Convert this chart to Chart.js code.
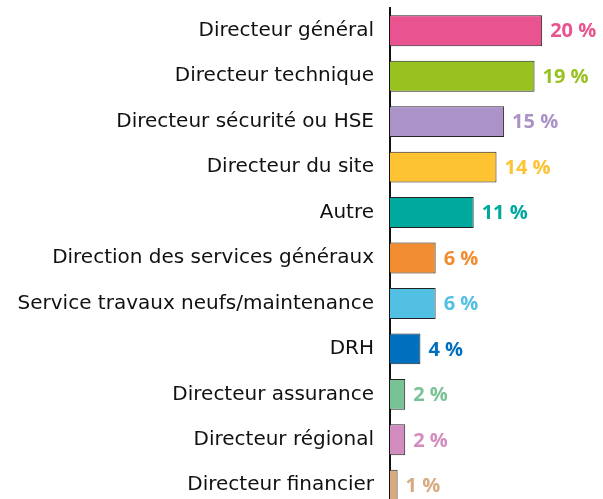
<!DOCTYPE html>
<html lang="fr">
<head>
<meta charset="utf-8">
<title>Fonction des répondants</title>
<script src="https://cdn.jsdelivr.net/npm/chart.js@4/dist/chart.umd.min.js"></script>
<style>
  html, body { margin: 0; padding: 0; background: #fff; overflow: hidden; }
  #wrap { width: 603px; height: 508px; position: relative; }
</style>
</head>
<body>
<div id="wrap"><canvas id="chart"></canvas></div>
<script>
// Values (share of respondents, %).
const categories = [
  'Directeur général', 'Directeur technique', 'Directeur sécurité ou HSE',
  'Directeur du site', 'Autre', 'Direction des services généraux',
  'Service travaux neufs/maintenance', 'DRH', 'Directeur assurance',
  'Directeur régional', 'Directeur financier',
];
const values = [20, 19, 15, 14, 11, 6, 6, 4, 2, 2, 1];
const colors = [
  '#E9538F', '#97C21F', '#AB93C8', '#FDC332', '#00A99E', '#F28C30',
  '#52C0E3', '#0070BE', '#78C295', '#D38CBF', '#D7AA80',
];

const LABEL_FONT = "'DejaVu Sans', 'Noto Sans', sans-serif";
const VALUE_FONT = "'Open Sans', 'Noto Sans', sans-serif";

// Bold coloured "NN %" label just past the end of each bar.
const valueLabels = {
  id: 'valueLabels',
  afterDatasetsDraw(chart) {
    const { ctx } = chart;
    const meta = chart.getDatasetMeta(0);
    ctx.save();
    ctx.font = `bold 20px ${VALUE_FONT}`;
    ctx.textBaseline = 'middle';
    ctx.textAlign = 'left';
    meta.data.forEach((bar, i) => {
      ctx.fillStyle = colors[i];
      ctx.fillText(`${values[i]} %`, bar.x + 8, bar.y + 1);
    });
    ctx.restore();
  },
};

new Chart(document.getElementById('chart'), {
  type: 'bar',
  data: {
    labels: categories,
    datasets: [{
      data: values,
      backgroundColor: colors,
      borderColor: '#222',
      borderWidth: 1,
      borderSkipped: 'start',
      categoryPercentage: 1,
      barPercentage: 0.68,
    }],
  },
  options: {
    indexAxis: 'y',
    responsive: true,
    maintainAspectRatio: false,
    animation: false,
    layout: { padding: { top: 8, right: 0, bottom: 0, left: 0 } },
    plugins: { legend: { display: false }, tooltip: { enabled: false } },
    scales: {
      x: { display: false, min: 0, max: 28 },
      y: {
        // fixed axis position, and no extra room reserved for the tick labels
        afterFit: s => { s.width = 390; s.paddingTop = 0; s.paddingBottom = 0; },
        grid: { display: false, drawTicks: false },
        border: { display: true, color: '#111', width: 2 },
        ticks: { color: '#111', padding: 16, font: { family: LABEL_FONT, size: 20 } },
      },
    },
  },
  plugins: [valueLabels],
});
</script>
</body>
</html>
